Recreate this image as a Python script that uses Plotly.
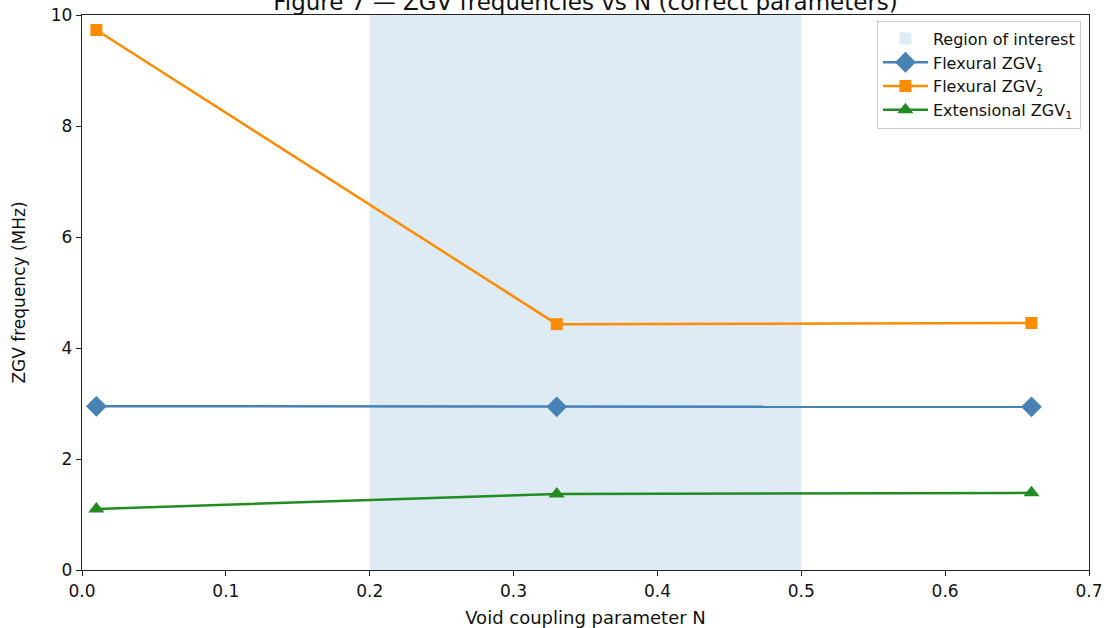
import plotly.graph_objects as go

N = [0.01, 0.33, 0.66]
flex1 = [2.95, 2.94, 2.94]
flex2 = [9.73, 4.43, 4.45]
ext1 = [1.10, 1.37, 1.39]
region = [0.2, 0.5]
xticks = [0.0, 0.1, 0.2, 0.3, 0.4, 0.5, 0.6, 0.7]
yticks = [0, 2, 4, 6, 8, 10]

font = "DejaVu Sans"
fig = go.Figure()

fig.add_shape(type="rect", xref="x", yref="paper", x0=region[0], x1=region[1], y0=0, y1=1,
              fillcolor="rgba(31,119,180,0.15)", line=dict(width=0), layer="below",
              showlegend=True, name="Region of interest", legendrank=1)

fig.add_trace(go.Scatter(x=N, y=flex1, mode="lines+markers", name="Flexural ZGV<sub>1</sub>",
                         line=dict(color="#4682b4", width=2.5),
                         marker=dict(symbol="diamond", size=16, color="#4682b4"), legendrank=2))
fig.add_trace(go.Scatter(x=N, y=flex2, mode="lines+markers", name="Flexural ZGV<sub>2</sub>",
                         line=dict(color="#ff8c00", width=2.5),
                         marker=dict(symbol="square", size=12, color="#ff8c00"), legendrank=3))
fig.add_trace(go.Scatter(x=N, y=ext1, mode="lines+markers", name="Extensional ZGV<sub>1</sub>",
                         line=dict(color="#228b22", width=2.5),
                         marker=dict(symbol="triangle-up", size=14, color="#228b22"), legendrank=4))

axis_common = dict(showline=True, mirror=True, linecolor="#222", linewidth=1.3,
                   ticks="outside", ticklen=5, tickwidth=1.2, tickcolor="#222",
                   showgrid=False, zeroline=False, automargin=False,
                   tickfont=dict(family=font, size=17, color="#111"))

fig.update_layout(
    width=1110, height=628,
    margin=dict(l=82, r=21, t=15, b=58),
    plot_bgcolor="white", paper_bgcolor="white",
    font=dict(family=font, color="#111"),
    title=dict(text="Figure 7 — ZGV frequencies vs N (correct parameters)",
               x=0.5, xref="paper", xanchor="center",
               y=0.9968, yref="container", yanchor="middle",
               font=dict(family=font, size=23, color="#111")),
    xaxis=dict(range=[0, 0.7], tickvals=xticks, tickformat=".1f",
               title=dict(text="Void coupling parameter N", font=dict(family=font, size=18), standoff=12),
               **axis_common),
    yaxis=dict(range=[0, 10], tickvals=yticks,
               title=dict(text="ZGV frequency (MHz)", font=dict(family=font, size=17), standoff=20),
               **axis_common),
    legend=dict(x=0.992, y=0.99, xanchor="right", yanchor="top",
                bgcolor="rgba(255,255,255,0.85)", bordercolor="#ccc", borderwidth=1,
                font=dict(family=font, size=16, color="#111"),
                tracegroupgap=0, itemwidth=45),
    showlegend=True,
)

fig.write_html("out.html")
